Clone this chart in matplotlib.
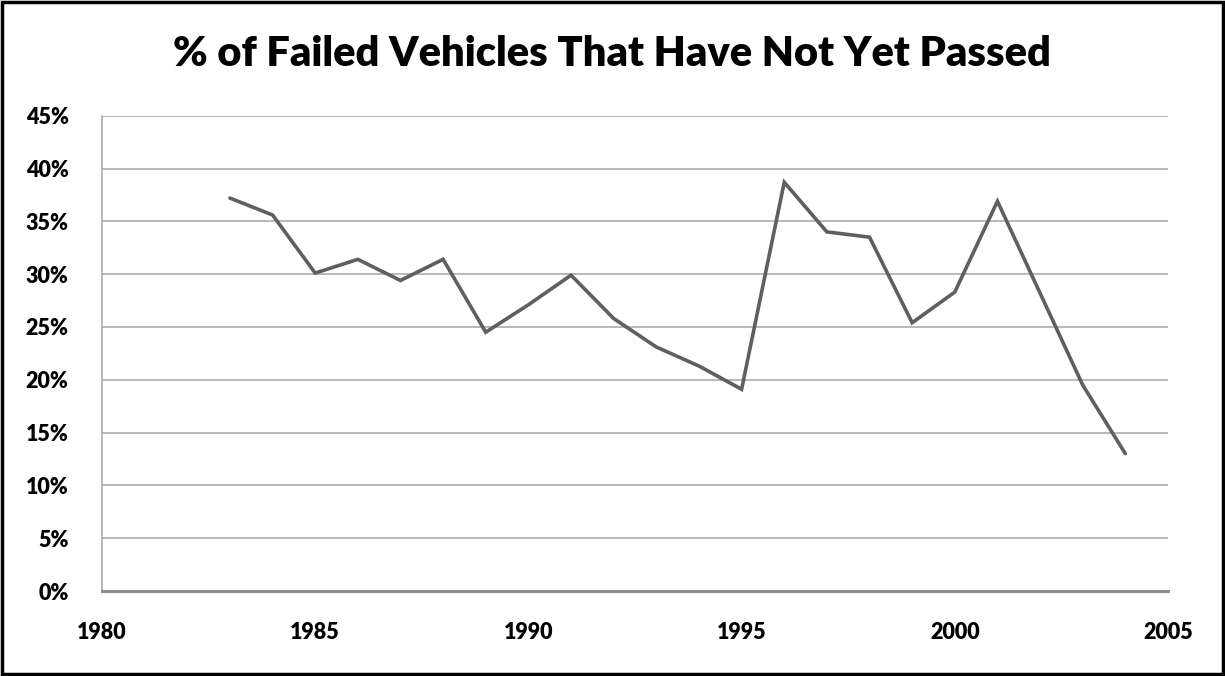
import numpy as np
import matplotlib.pyplot as plt
from matplotlib.patches import Rectangle
from matplotlib.ticker import FuncFormatter

# data
years = [1983, 1984, 1985, 1986, 1987, 1988, 1989, 1990, 1991, 1992, 1993,
         1994, 1995, 1996, 1997, 1998, 1999, 2000, 2001, 2002, 2003, 2004]
pct_not_passed = [37.2, 35.6, 30.1, 31.4, 29.4, 31.4, 24.5, 27.1, 29.9, 25.8, 23.1,
                  21.3, 19.1, 38.7, 34.0, 33.5, 25.4, 28.3, 36.9, 28.2, 19.5, 13.0]
x_ticks = [1980, 1985, 1990, 1995, 2000, 2005]
y_ticks = [0, 5, 10, 15, 20, 25, 30, 35, 40, 45]

W, H = 1225, 676
fig = plt.figure(figsize=(W / 100, H / 100), dpi=100)
fig.patch.set_facecolor('white')

# outer black frame
fig.patches.append(Rectangle((2 / W, 2 / H), 1 - 4 / W, 1 - 4 / H, transform=fig.transFigure,
                             fill=False, edgecolor='black', linewidth=2.5))

ax = fig.add_axes([102 / W, (H - 591) / H, (1168 - 102) / W, (591 - 115.7) / H])

ax.plot(years, pct_not_passed, color='#5f5f5f', linewidth=2.6, solid_capstyle='round',
        solid_joinstyle='miter', zorder=3)

ax.set_xlim(1980, 2005)
ax.set_ylim(0, 45)
ax.set_xticks(x_ticks)
ax.set_yticks(y_ticks)
ax.yaxis.set_major_formatter(FuncFormatter(lambda v, p: '%d%%' % v))

ax.grid(axis='y', color='#a6a6a6', linewidth=1.1, zorder=1)
ax.set_axisbelow(True)
for s in ['top', 'right']:
    ax.spines[s].set_visible(False)
ax.spines['left'].set_color('#a6a6a6')
ax.spines['left'].set_linewidth(1.1)
ax.spines['bottom'].set_color('#8c8c8c')
ax.spines['bottom'].set_linewidth(2.2)
ax.tick_params(axis='y', length=0, labelsize=15.5, pad=24)
ax.tick_params(axis='x', length=0, labelsize=15.5, pad=22)
for lab in ax.get_xticklabels() + ax.get_yticklabels():
    lab.set_fontweight('heavy')
    lab.set_fontfamily('Lato')

fig.text(612 / W, 1 - 54 / H, '% of Failed Vehicles That Have Not Yet Passed',
         ha='center', va='center', fontsize=30, fontweight='heavy', family='Lato')

plt.savefig('out.png', dpi=100)
